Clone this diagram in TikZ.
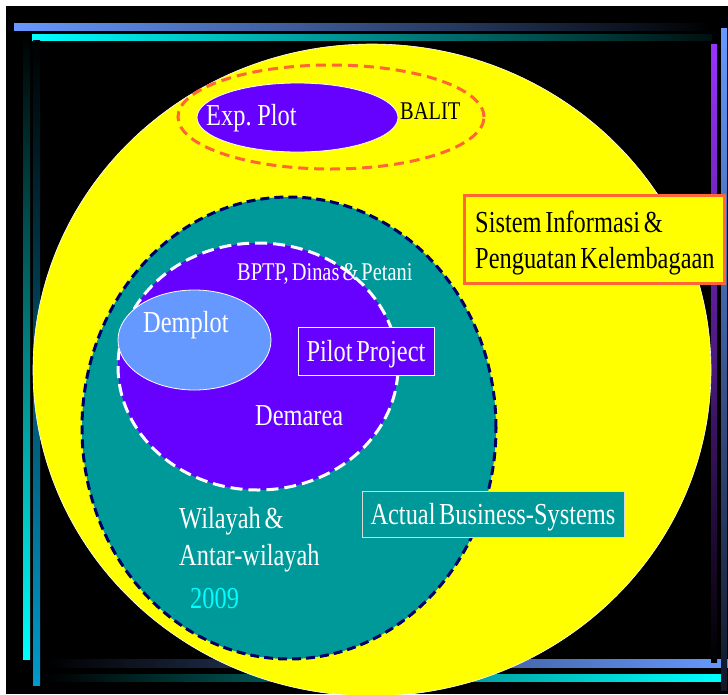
\documentclass[tikz,border=0pt]{standalone}
\usepackage{fontspec}
\setmainfont{Liberation Serif}[FakeStretch=0.8, WordSpace=0.6]
\usetikzlibrary{shapes.geometric}
\definecolor{cYellow}{HTML}{FFFF00}
\definecolor{cPurple}{HTML}{6600FF}
\definecolor{cTeal}{HTML}{009999}
\definecolor{cLBlue}{HTML}{6699FF}
\definecolor{cOrange}{HTML}{FF6633}
\definecolor{cNavy}{HTML}{000066}
\definecolor{cCyan}{HTML}{00FFFF}
\definecolor{cDCyan}{HTML}{0099CC}
\definecolor{cViolet}{HTML}{9933FF}
\begin{document}
\begin{tikzpicture}[x=1pt,y=-1pt,
  oval/.style={ellipse, inner sep=0pt},
  lbl/.style={anchor=base west, inner sep=0pt, text=white, font=\fontsize{30.5}{36}\selectfont},
  boxlbl/.style={inner sep=0pt, text height=20pt, text depth=0pt, font=\fontsize{30.5}{36}\selectfont}]
\useasboundingbox (0,0) rectangle (728,694);
\fill[white] (0,0) rectangle (728,694);
\fill[black] (6,6) rectangle (728,694);
% decorative bars
\shade[left color=cLBlue, right color=black] (14,23) rectangle (712,30);
\shade[left color=cCyan, right color=black!90!cTeal] (32,34) rectangle (712,40);
\shade[top color=black, bottom color=cCyan] (23,33) rectangle (30,659);
\shade[top color=black, bottom color=cDCyan] (33,40) rectangle (40,685);
\shade[left color=black, right color=cLBlue] (45,659) rectangle (728,667);
\shade[left color=black, right color=cCyan] (45,674) rectangle (721,681);
\shade[top color=cViolet, bottom color=black] (711,44) rectangle (717,662);
\shade[top color=cLBlue, bottom color=black!85!cLBlue] (721,28) rectangle (727,690);
% main shapes
\node[oval, fill=cYellow, draw=white, line width=0.6pt, minimum width=678pt, minimum height=652pt] (big) at (372,370) {};
\node[oval, draw=cOrange, line width=3pt, dash pattern=on 10pt off 6pt, minimum width=306pt, minimum height=104pt] (balit) at (331,117) {};
\node[oval, fill=cPurple, draw=white, line width=0.8pt, minimum width=201pt, minimum height=69pt] (exp) at (297.5,117.5) {};
\node[oval, fill=cTeal, draw=cNavy, line width=3pt, dash pattern=on 9pt off 5pt, minimum width=414pt, minimum height=462pt] (wil) at (289,428) {};
\node[oval, fill=cPurple, draw=white, line width=3pt, dash pattern=on 12pt off 6pt, minimum width=280pt, minimum height=247pt] (dem) at (258,366.5) {};
\node[oval, fill=cLBlue, draw=white, line width=0.8pt, minimum width=153pt, minimum height=100pt] (demplot) at (194.5,340) {};
% boxes
\node[draw=white, fill=cPurple, line width=0.8pt, minimum width=136pt, minimum height=48pt, boxlbl, text=white] (pilot) at (366,351) {Pilot Project};
\node[draw=white!85!black, fill=cTeal, line width=0.8pt, minimum width=262pt, minimum height=46pt, boxlbl, text=white] (actual) at (493,514) {Actual Business-Systems};
\node[draw=cOrange, fill=cYellow, line width=3pt, minimum width=260pt, minimum height=88pt, inner sep=0pt] (sis) at (594,239) {};
% texts
\node[lbl] (tExp) at (206,125) {Exp. Plot};
\node[lbl, text=black, font=\fontsize{25.5}{30}\selectfont] (tBalit) at (400,119.5) {BALIT};
\node[lbl, text=black] (tSis1) at (475,232) {Sistem Informasi \&};
\node[lbl, text=black] (tSis2) at (475,268) {Penguatan Kelembagaan};
\node[lbl, font=\fontsize{25.5}{30}\selectfont] (tBptp) at (237,280) {BPTP, Dinas \& Petani};
\node[lbl] (tDemplot) at (143,332) {Demplot};
\node[lbl] (tDemarea) at (255,425) {Demarea};
\node[lbl] (tWil1) at (179,528) {Wilayah \&};
\node[lbl] (tWil2) at (179,565) {Antar-wilayah};
\node[lbl, text=cCyan] (tYear) at (190,608) {2009};
\end{tikzpicture}
\end{document}
